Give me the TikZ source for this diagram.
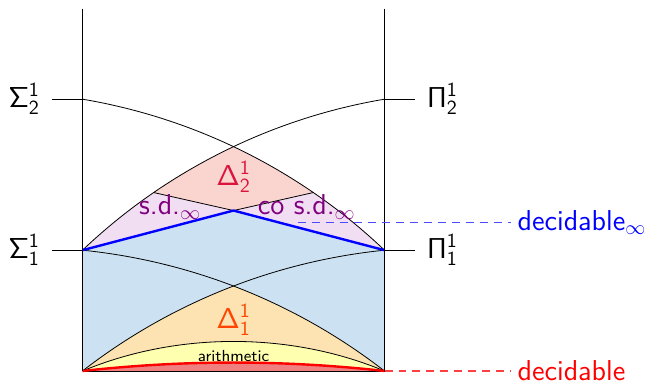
\documentclass[tikz,border=0pt]{standalone}
\usepackage{tikz}
\usetikzlibrary{calc}
\definecolor{deltatwo}{HTML}{DC143C}
\definecolor{deltaone}{HTML}{FF4500}
\definecolor{sdpurple}{HTML}{800080}
\definecolor{pinkfill}{HTML}{FAD5D0}
\definecolor{lilacfill}{HTML}{F1DEF2}
\definecolor{bluefill}{HTML}{CCE2F2}
\definecolor{orangefill}{HTML}{FDE2B2}
\definecolor{yellowfill}{HTML}{FFFFB0}
\definecolor{redfill}{HTML}{F08080}
\tikzset{
  arcL/.style={bend left=#1,looseness=.87},
  arcR/.style={bend right=#1,looseness=.87},
  hint/.style={semithick,dash pattern=on 4pt off 3pt}
}

\begin{document}
\begin{tikzpicture}[x=1.327cm,y=1.327cm,font=\sffamily\Large]
  \useasboundingbox (-1.093,-0.159) rectangle (7.53,4.914);
  \coordinate (S2) at (0,3.6);
  \coordinate (P2) at (4,3.6);
  \coordinate (S1) at (0,1.6);
  \coordinate (P1) at (4,1.6);
  \coordinate (bl) at (0,0);
  \coordinate (br) at (4,0);
  \coordinate (mid) at (2,2.125);
  \coordinate (sdL) at (0.94,2.364);
  \coordinate (sdR) at (3.06,2.364);
  \coordinate (hint) at (2.85,1.97);

  \begin{scope}
    \clip (S2) to[arcL=17] (P1) -- (br) -- (bl) -- cycle;
    \clip (P2) to[arcR=17] (S1) -- (bl) -- (br) -- cycle;
    \fill[pinkfill] (S1) rectangle (P2);
    \fill[lilacfill] (S1) -- ($(mid)!1.3!(sdL)$) -- (mid) -- cycle;
    \fill[lilacfill] (P1) -- ($(mid)!1.3!(sdR)$) -- (mid) -- cycle;
  \end{scope}
  \fill[bluefill] (S1) -- (mid) -- (P1) -- (br) -- (bl) -- cycle;
  \begin{scope}
    \clip (S1) to[arcL=16] (br) -- (bl) -- cycle;
    \fill[orangefill] (P1) to[arcR=16] (bl) -- (br) -- cycle;
  \end{scope}
  \fill[yellowfill] (bl) to[arcL=22.6] (br) -- cycle;
  \fill[redfill] (bl) to[arcL=6.3] (br) -- cycle;

  \draw (S2) to[arcL=17] (P1);
  \draw (P2) to[arcR=17] (S1);
  \draw (S1) to[arcL=16] (br);
  \draw (P1) to[arcR=16] (bl);
  \draw (sdL) -- (mid) -- (sdR);
  \draw (bl) to[arcL=22.6] (br);
  \draw (bl) -- (br);
  \draw[very thick,red] (bl) to[arcL=6.3] (br);
  \draw[very thick,blue] (S1) -- (mid) -- (P1);
  \draw (0,4.8) -- (bl);
  \draw (4,4.8) -- (br);

  \node[anchor=east,inner sep=6pt] (s2) at (-0.4,3.6) {$\mathsf{\Sigma^1_2}$};
  \node[anchor=east,inner sep=6pt] (s1) at (-0.4,1.6) {$\mathsf{\Sigma^1_1}$};
  \node[anchor=west,inner sep=6pt] (p2) at (4.4,3.6) {$\mathsf{\Pi^1_2}$};
  \node[anchor=west,inner sep=6pt] (p1) at (4.4,1.6) {$\mathsf{\Pi^1_1}$};
  \draw (S2) -- (s2);
  \draw (S1) -- (s1);
  \draw (P2) -- (p2);
  \draw (P1) -- (p1);

  \node[deltatwo] (d2) at (2,2.57) {$\mathsf{\Delta^1_2}$};
  \node[deltaone] (d1) at (2,0.675) {$\mathsf{\Delta^1_1}$};
  \node[font=\sffamily\footnotesize] (arith) at (2,0.2) {arithmetic};
  \node[sdpurple] (sdl) at (1.16,2.17) {s.d.$_\infty$};
  \node[sdpurple] (sdr) at (2.97,2.17) {co s.d.$_\infty$};

  \node[blue,anchor=west] (decinf) at (5.67,1.97) {decidable$_\infty$};
  \node[red,anchor=west] (dec) at (5.67,0) {decidable};
  \draw[blue!70,hint] (hint) -- (decinf);
  \draw[red!75,hint] (br) -- (dec);
\end{tikzpicture}
\end{document}
